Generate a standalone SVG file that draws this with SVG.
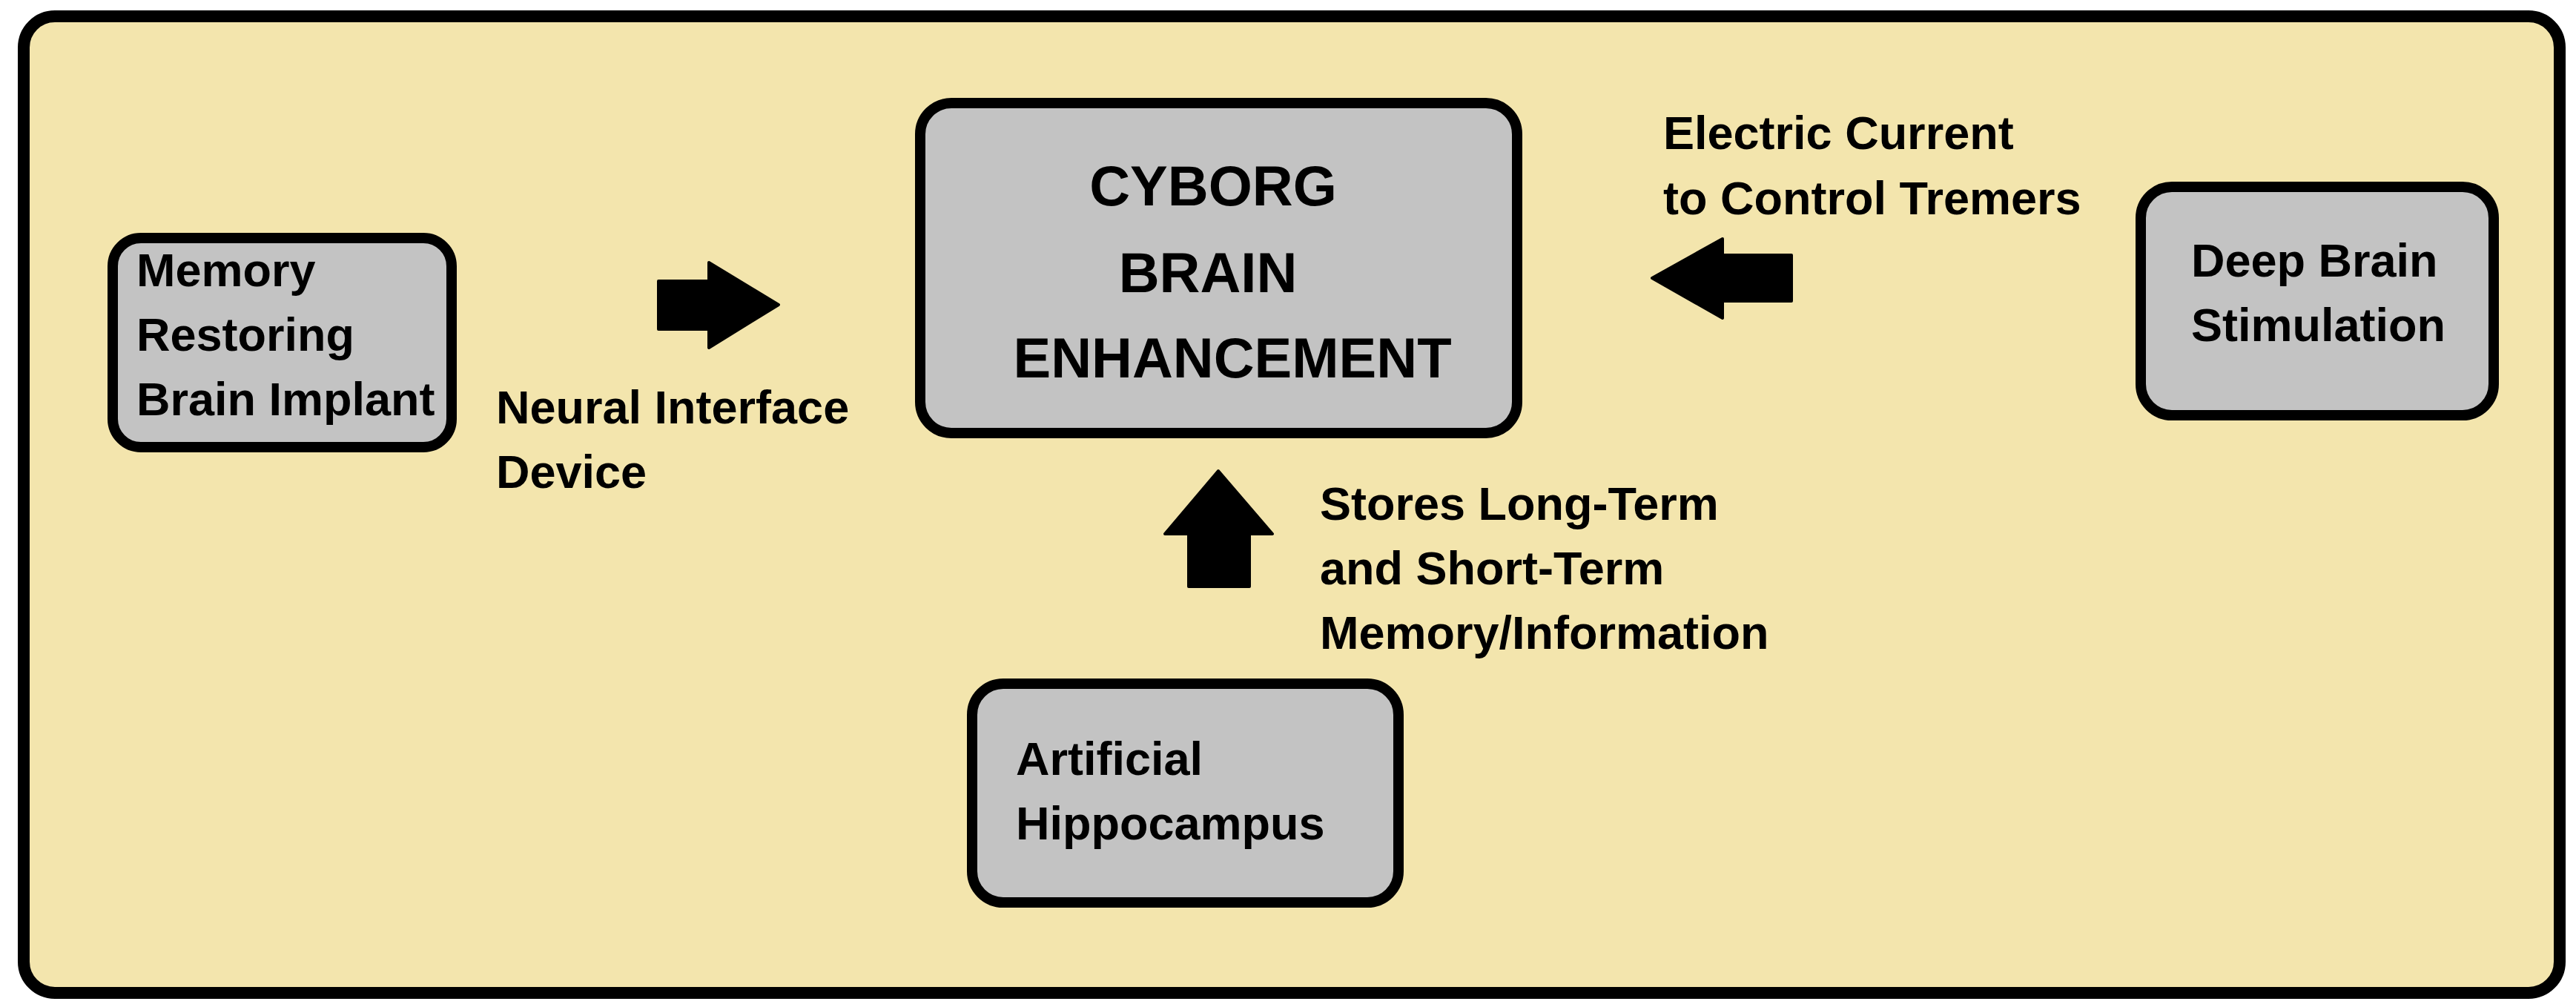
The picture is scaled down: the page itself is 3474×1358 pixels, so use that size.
<svg xmlns="http://www.w3.org/2000/svg" width="3474" height="1358" viewBox="0 0 3474 1358">
<style>
.frame{fill:#F3E5AD;stroke:#000;stroke-width:16}
.box{fill:#C3C3C3;stroke:#000;stroke-width:14}
.t{font-family:"Liberation Sans",Arial,sans-serif;font-weight:bold;font-size:63px;fill:#000}
.big{font-size:76px;text-anchor:middle}
.arrow{fill:#000;stroke:#000;stroke-width:4;stroke-linejoin:round}
</style>
<rect width="3474" height="1358" fill="#fff"/>
<rect id="frame" class="frame" x="32" y="22" width="3420" height="1317" rx="42"/>
<g id="connectors">
  <polygon class="arrow" points="888,379 956,379 956,354 1050,411 956,469 956,444 888,444"/>
  <polygon class="arrow" points="2416,344 2323,344 2323,322 2228,375 2323,429 2323,406 2416,406"/>
  <polygon class="arrow" points="1603,791 1603,720 1571,720 1643,635 1716,720 1685,720 1685,791"/>
  <text class="t" x="669" y="571">Neural Interface</text>
  <text class="t" x="669" y="658">Device</text>
  <text class="t" x="2243" y="201">Electric Current</text>
  <text class="t" x="2243" y="289">to Control Tremers</text>
  <text class="t" x="1780" y="701">Stores Long-Term</text>
  <text class="t" x="1780" y="788">and Short-Term</text>
  <text class="t" x="1780" y="875">Memory/Information</text>
</g>
<g id="memory">
  <rect class="box" x="152" y="321" width="457" height="282" rx="38"/>
  <text class="t" x="184" y="386">Memory</text>
  <text class="t" x="184" y="473">Restoring</text>
  <text class="t" x="184" y="560">Brain Implant</text>
</g>
<g id="cyborg">
  <rect class="box" x="1241" y="139" width="805" height="445" rx="42"/>
  <text class="t big" x="1636" y="277">CYBORG</text>
  <text class="t big" x="1629" y="394">BRAIN</text>
  <text class="t big" x="1662" y="509">ENHANCEMENT</text>
</g>
<g id="deep">
  <rect class="box" x="2887" y="252" width="476" height="308" rx="42"/>
  <text class="t" x="2955" y="373">Deep Brain</text>
  <text class="t" x="2955" y="460">Stimulation</text>
</g>
<g id="hippocampus">
  <rect class="box" x="1311" y="922" width="575" height="295" rx="42"/>
  <text class="t" x="1370" y="1045">Artificial</text>
  <text class="t" x="1370" y="1132">Hippocampus</text>
</g>
</svg>
